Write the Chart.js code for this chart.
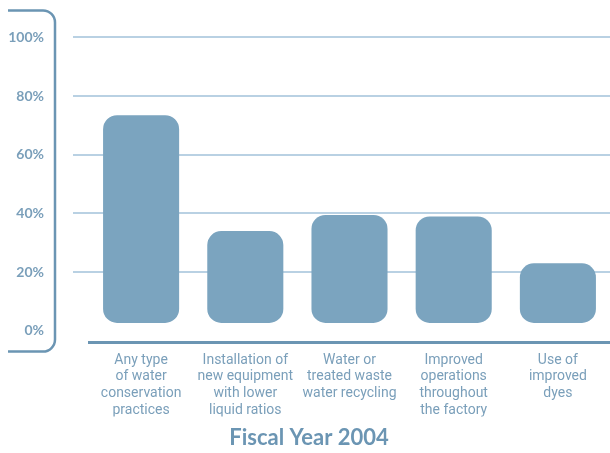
<!DOCTYPE html>
<html>
<head>
<meta charset="utf-8">
<script src="https://cdn.jsdelivr.net/npm/chart.js@4.4.1/dist/chart.umd.min.js"></script>
<style>
  html, body { margin: 0; padding: 0; background: #ffffff; }
  #wrap { width: 610px; height: 453px; position: relative; }
</style>
</head>
<body>
<div id="wrap"><canvas id="waterChart"></canvas></div>
<script>
// Data
const categories = [
  ['Any type', 'of water', 'conservation', 'practices'],
  ['Installation of', 'new equipment', 'with lower', 'liquid ratios'],
  ['Water or', 'treated waste', 'water recycling'],
  ['Improved', 'operations', 'throughout', 'the factory'],
  ['Use of', 'improved', 'dyes']
];
const shareValues = [73.5, 34, 39.5, 39, 23];
const yTicks = [0, 20, 40, 60, 80, 100];
const chartTitle = 'Fiscal Year 2004';

const barColor = '#7ba4bf';
const gridColor = '#b9d1e3';
const textColor = '#7a9fba';
const lineColor = '#6b95b3';
const fontFamily = "'Roboto', sans-serif";

// Decorative bracket on the left, placed from the chart area
const bracketPlugin = {
  id: 'bracket',
  afterDraw(chart) {
    const { ctx, chartArea } = chart;
    const x = chartArea.left - 34;
    const top = chartArea.top - 27;
    const bottom = chartArea.bottom + 9;
    const left = 8;
    const r = 12;
    ctx.save();
    ctx.strokeStyle = lineColor;
    ctx.lineWidth = 2.5;
    ctx.beginPath();
    ctx.moveTo(left, top);
    ctx.lineTo(x - r, top);
    ctx.arcTo(x, top, x, top + r, r);
    ctx.lineTo(x, bottom - r);
    ctx.arcTo(x, bottom, x - r, bottom, r);
    ctx.lineTo(left, bottom);
    ctx.stroke();
    ctx.restore();
  }
};

const chart = new Chart(document.getElementById('waterChart').getContext('2d'), {
  type: 'bar',
  data: {
    labels: categories,
    datasets: [{
      data: shareValues,
      base: 2.7,
      backgroundColor: barColor,
      borderRadius: 14,
      borderSkipped: false,
      barPercentage: 0.73,
      categoryPercentage: 1
    }]
  },
  options: {
    responsive: true,
    maintainAspectRatio: false,
    animation: false,
    layout: { padding: { left: 8, right: 0, top: 33, bottom: 2 } },
    scales: {
      x: {
        afterFit: (axis) => { axis.height = 74; },
        grid: { display: false, drawTicks: false },
        border: { display: true, color: lineColor, width: 3 },
        ticks: {
          color: textColor,
          font: { family: fontFamily, size: 14, lineHeight: 1.2 },
          padding: 9,
          maxRotation: 0,
          autoSkip: false
        }
      },
      y: {
        min: -4,
        max: 100,
        afterBuildTicks: (axis) => {
          axis.ticks = yTicks.map(v => ({ value: v }));
        },
        afterFit: (axis) => { axis.width = 81; },
        grid: {
          color: (c) => (c.tick && c.tick.value === 0 ? 'rgba(0,0,0,0)' : gridColor),
          lineWidth: 2,
          drawTicks: true,
          tickLength: 16
        },
        border: { display: false },
        ticks: {
          color: textColor,
          font: { family: 'Lato, sans-serif', size: 14, weight: 'bold' },
          padding: 29,
          callback: (v) => v + '%'
        }
      }
    },
    plugins: {
      legend: { display: false },
      tooltip: { enabled: false },
      title: {
        display: true,
        text: chartTitle,
        position: 'bottom',
        color: lineColor,
        font: { family: 'Lato, sans-serif', size: 22, weight: 'bold' },
        padding: { top: 8, bottom: 0 }
      }
    }
  },
  plugins: [bracketPlugin]
});
</script>
</body>
</html>
